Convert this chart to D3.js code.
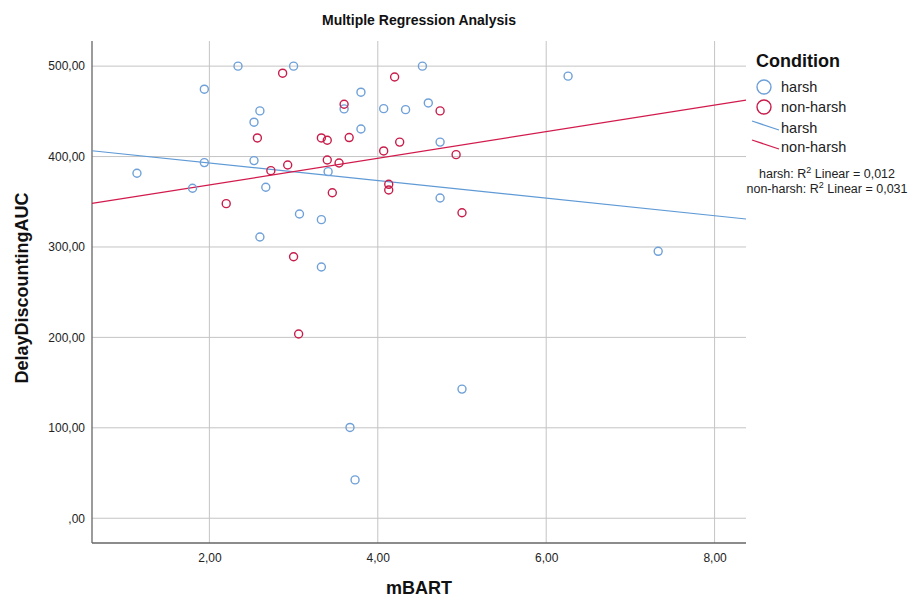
<!DOCTYPE html>
<html>
<head>
<meta charset="utf-8">
<script src="https://cdn.jsdelivr.net/npm/d3@7"></script>
<style>
  body { margin: 0; background: #fff; }
  text { font-family: "Liberation Sans", Arial, sans-serif; }
</style>
</head>
<body>
<div id="chart"></div>
<script>
// values (mBART, DelayDiscountingAUC)
const harshX = [2.34, 3.00, 1.94, 2.60, 2.53, 1.94, 2.53, 1.14, 1.80, 2.67, 3.07, 2.60, 4.53, 3.80, 3.60,
    4.07, 4.33, 4.60, 3.80, 4.74, 3.41, 4.74, 3.33, 3.33, 5.00, 3.67, 3.73, 6.26, 7.33];
const harshY = [500, 500, 474.5, 450.5, 438, 393.3, 395.5, 381.5, 365, 366, 336.5, 311, 500, 471.2, 452.7,
    453, 451.9, 459.3, 430.5, 416, 383.3, 354.2, 330.2, 277.8, 142.8, 100.4, 42.4, 488.9, 295.2];

const nonHarshX = [2.87, 2.57, 2.73, 2.93, 2.20, 4.20, 3.60, 4.74, 3.33, 3.40, 3.66, 4.26, 4.07, 4.93,
    3.40, 3.54, 3.46, 4.13, 4.13, 5.00, 3.00, 3.06];
const nonHarshY = [492.2, 420.6, 384.4, 390.7, 347.9, 488, 457.9, 450.5, 420.6, 418, 421, 416, 406.2, 402.1,
    396.2, 392.9, 360, 369.3, 363, 337.9, 289.2, 203.7];

const groups = ["harsh", "non-harsh"];
const rSquared = ["0,012", "0,031"];
const xTicks = [2, 4, 6, 8];
const yTicks = [0, 100, 200, 300, 400, 500];

const colors = { "harsh": "#6fa0d8", "non-harsh": "#c81d4a" };
const lineColors = { "harsh": "#5f9ad6", "non-harsh": "#d21a4c" };

const W = 913, H = 600;
const plot = { left: 92, right: 746, top: 41, bottom: 543 };

const svg = d3.select('#chart')
    .append('svg')
    .attr('width', W)
    .attr('height', H);

const xScale = d3.scaleLinear().domain([0.606, 8.373]).range([plot.left, plot.right]);
const yScale = d3.scaleLinear().domain([-27.4, 527.8]).range([plot.bottom, plot.top]);

// number format like "2,00" and ",00"
const fmt = v => {
    const s = v.toFixed(2).replace('.', ',');
    return s.startsWith('0,') ? s.slice(1) : s;
};

// grid lines
const grid = svg.append('g').attr('id', 'grid');
grid.selectAll('line.h')
    .data(yTicks)
    .enter()
    .append('line')
    .attr('x1', plot.left).attr('x2', plot.right)
    .attr('y1', d => yScale(d)).attr('y2', d => yScale(d))
    .attr('stroke', '#c4c4c4').attr('stroke-width', 1);
grid.selectAll('line.v')
    .data(xTicks)
    .enter()
    .append('line')
    .attr('y1', plot.top).attr('y2', plot.bottom)
    .attr('x1', d => xScale(d)).attr('x2', d => xScale(d))
    .attr('stroke', '#c4c4c4').attr('stroke-width', 1);

// axes
const xAxis = d3.axisBottom(xScale).tickValues(xTicks).tickFormat(fmt).tickSize(0).tickPadding(10);
const yAxis = d3.axisLeft(yScale).tickValues(yTicks).tickFormat(fmt).tickSize(0).tickPadding(7);

const xAxisGroup = svg.append('g')
    .attr('transform', `translate(0, ${plot.bottom})`)
    .call(xAxis);
const yAxisGroup = svg.append('g')
    .attr('transform', `translate(${plot.left}, 0)`)
    .call(yAxis);

[xAxisGroup, yAxisGroup].forEach(g => {
    g.select('.domain').remove();
    g.selectAll('text').attr('fill', '#222').style('font-size', '12px');
});

svg.append('line')
    .attr('x1', plot.left).attr('x2', plot.left)
    .attr('y1', plot.top).attr('y2', plot.bottom)
    .attr('stroke', '#666').attr('stroke-width', 1.3);
svg.append('line')
    .attr('x1', plot.left).attr('x2', plot.right)
    .attr('y1', plot.bottom).attr('y2', plot.bottom)
    .attr('stroke', '#666').attr('stroke-width', 1.3);

// least squares fit lines, one per group
const fit = (xs, ys) => {
    const mx = d3.mean(xs), my = d3.mean(ys);
    const sxy = d3.sum(xs, (x, i) => (x - mx) * (ys[i] - my));
    const sxx = d3.sum(xs, x => (x - mx) * (x - mx));
    const b = sxy / sxx;
    return { a: my - b * mx, b: b };
};

const series = [
    { name: "harsh", xs: harshX, ys: harshY },
    { name: "non-harsh", xs: nonHarshX, ys: nonHarshY }
];

const elementGroup = svg.append('g').attr('id', 'elementGroup');

const line = d3.line()
    .x(d => xScale(d[0]))
    .y(d => yScale(d[1]));

series.forEach(s => {
    const f = fit(s.xs, s.ys);
    const dom = xScale.domain();
    elementGroup.append('path')
        .datum(dom.map(x => [x, f.a + f.b * x]))
        .attr('fill', 'none')
        .attr('stroke', lineColors[s.name])
        .attr('stroke-width', 1.2)
        .attr('d', line);
});

series.forEach(s => {
    elementGroup.selectAll(null)
        .data(s.xs.map((x, i) => [x, s.ys[i]]))
        .enter()
        .append('circle')
        .attr('cx', d => xScale(d[0]))
        .attr('cy', d => yScale(d[1]))
        .attr('r', 4)
        .attr('fill', 'none')
        .attr('stroke', colors[s.name])
        .attr('stroke-width', 1.4);
});

// titles
svg.append('text')
    .attr('x', 419).attr('y', 25)
    .attr('text-anchor', 'middle')
    .style('font-size', '14px').style('font-weight', 'bold')
    .attr('fill', '#111')
    .text('Multiple Regression Analysis');

svg.append('text')
    .attr('x', 419).attr('y', 594)
    .attr('text-anchor', 'middle')
    .style('font-size', '18px').style('font-weight', 'bold')
    .attr('fill', '#111')
    .text('mBART');

svg.append('text')
    .attr('transform', 'translate(28, 288) rotate(-90)')
    .attr('text-anchor', 'middle')
    .style('font-size', '18px').style('font-weight', 'bold')
    .attr('fill', '#111')
    .text('DelayDiscountingAUC');

// legend
const legend = svg.append('g').attr('id', 'legend');
legend.append('text')
    .attr('x', 756).attr('y', 67)
    .style('font-size', '18px').style('font-weight', 'bold')
    .attr('fill', '#111')
    .text('Condition');

groups.forEach((g, i) => {
    const cy = 87 + i * 20;
    legend.append('circle')
        .attr('cx', 764).attr('cy', cy).attr('r', 7)
        .attr('fill', 'none')
        .attr('stroke', colors[g]).attr('stroke-width', 1.4);
    legend.append('text')
        .attr('x', 781).attr('y', cy + 5)
        .style('font-size', '14.5px')
        .attr('fill', '#222')
        .text(g);
});

groups.forEach((g, i) => {
    const ly = 128 + i * 19;
    legend.append('line')
        .attr('x1', 752).attr('y1', ly - 7)
        .attr('x2', 779).attr('y2', ly + 2)
        .attr('stroke', lineColors[g]).attr('stroke-width', 1.2);
    legend.append('text')
        .attr('x', 781).attr('y', ly + 5)
        .style('font-size', '14.5px')
        .attr('fill', '#222')
        .text(g);
});

groups.forEach((g, i) => {
    const t = legend.append('text')
        .attr('x', 827).attr('y', 178 + i * 15)
        .attr('text-anchor', 'middle')
        .style('font-size', '12.5px')
        .attr('fill', '#222');
    t.append('tspan').text(g + ': R');
    t.append('tspan').attr('dy', -5).style('font-size', '9px').text('2');
    t.append('tspan').attr('dy', 5).text(' Linear = ' + rSquared[i]);
});
</script>
</body>
</html>
